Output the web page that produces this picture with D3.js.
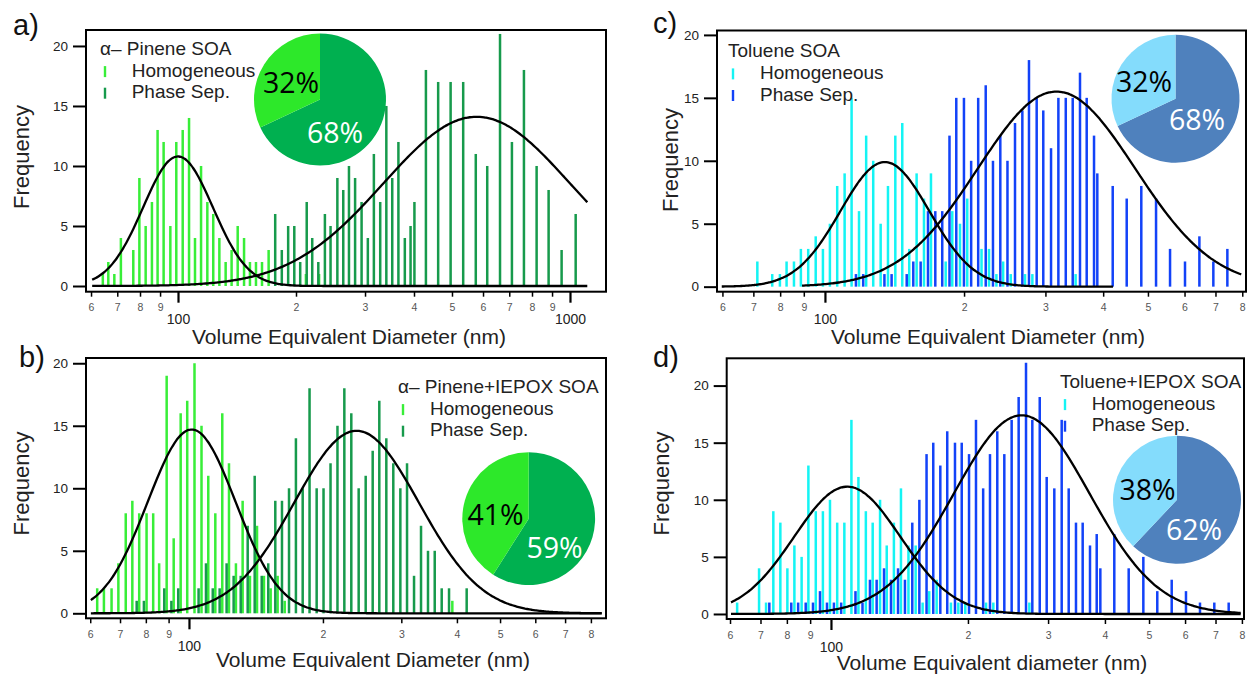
<!DOCTYPE html>
<html>
<head>
<meta charset="utf-8">
<script src="https://cdn.jsdelivr.net/npm/d3@7"></script>
<style>
  body { margin: 0; background: #fff; }
  text { font-family: "Liberation Sans", Arial, sans-serif; }
</style>
</head>
<body>
<script>
// ---------------- data (diameter in nm, counts) ----------------
// a) alpha-pinene SOA
var aHomD = [64.3, 66.4, 68.8, 71.5, 76.9, 79.7, 82.7, 85.8, 88.7, 91.9, 95.6, 99.0, 102.8, 106.7, 110.5, 114.5, 118.8, 123.0, 127.5, 132.3, 137.0, 142.0, 147.4, 152.6, 158.1, 163.8, 170.3, 212, 229];
var aHomN = [1, 2, 1, 4, 3, 9, 5, 7, 13, 12, 5, 12, 13, 14, 4, 10, 7, 6, 4, 2, 3, 5, 4, 2, 2, 2, 3, 1, 1];
var aPhsD = [177, 184, 191, 198, 205, 213, 220, 228, 237, 245, 255, 264, 273, 283, 294, 305, 316, 328, 340, 352, 365, 379, 392, 401, 429, 461, 496, 534, 575, 615, 663, 711, 763, 822, 882, 952, 1034];
var aPhsN = [6, 3, 5, 5, 2, 7, 4, 2, 6, 5, 9, 8, 10, 9, 7, 4, 11, 7, 15, 9, 12, 4, 5, 7, 18, 17, 17, 17, 11, 10, 21, 12, 18, 10, 8, 3, 6];
// fit: [centre nm, sigma (log10), amplitude, from nm, to nm]
var aFitHom = [100, 0.089, 10.8, 60.4, 1107];
var aFitPhs = [578, 0.238, 14.1, 60.4, 1107];
var aPie = [68, 32]; // phase sep., homogeneous

// b) alpha-pinene + IEPOX SOA
var bHomD = [62.2, 64.4, 67.0, 69.4, 72.1, 74.6, 77.3, 80.3, 83.1, 85.7, 89.1, 92.4, 95.8, 99.1, 102.9, 106.7, 110.5, 114.6, 118.8, 123.0, 127.5, 132.0, 137.1, 142.2, 147.4, 152.6, 158.2, 164.1, 390.6];
var bHomN = [2, 2, 2, 4, 8, 9, 8, 8, 8, 4, 19, 6, 16, 17, 20, 15, 11, 8, 16, 12, 4, 9, 3, 7, 3, 2, 3, 1, 1];
var bPhsD = [76.3, 79.2, 88.0, 91.3, 94.6, 105.1, 109.2, 113.1, 117.2, 121.5, 126.0, 130.7, 135.5, 140.5, 145.7, 150.7, 156.3, 161.8, 167.8, 173.9, 180.1, 186.6, 193.6, 200.6, 208.0, 215.6, 223.4, 231.6, 240.6, 249.5, 258.7, 267.7, 277.6, 287.8, 298.5, 309.0, 320.4, 332.2, 344.4, 356.6, 369.7, 384.0, 420.7];
var bPhsN = [1, 1, 2, 1, 2, 2, 4, 2, 2, 4, 3, 3, 7, 11, 3, 4, 9, 9, 10, 14, 10, 18, 10, 10, 12, 15, 18, 16, 10, 11, 13, 17, 14, 12, 10, 12, 3, 7, 5, 5, 2, 2, 2];
var bFitHom = [101.4, 0.0987, 14.7, 60.2, 846];
var bFitPhs = [238, 0.14, 14.6, 60.2, 846];
var bPie = [59, 41];

// c) toluene SOA
var cHomD = [71.4, 76.9, 79.9, 82.6, 85.7, 88.7, 92.0, 95.5, 99.0, 102.5, 106.3, 110.3, 114.2, 118.5, 122.8, 127.2, 132.0, 136.9, 142.0, 147.0, 152.2, 157.9, 163.8, 169.6, 182.5, 188.6, 196.0, 203.2, 218.2, 226.5, 235.0, 243.0, 252.4, 271.0, 281.1, 348.7];
var cHomN = [2, 1, 1, 2, 2, 3, 3, 4, 3, 5, 8, 9, 15, 6, 12, 10, 5, 8, 12, 13, 3, 9, 7, 9, 2, 6, 5, 7, 3, 3, 1, 2, 1, 1, 1, 1];
var cPhsD = [116.7, 121.0, 134.5, 139.4, 150.3, 155.3, 161.1, 167.1, 173.3, 179.4, 186.0, 192.4, 199.9, 207.2, 214.6, 222.8, 231.0, 239.6, 248.3, 257.8, 267.4, 276.4, 287.2, 296.8, 308.5, 320.0, 332.0, 343.7, 356.4, 368.5, 382.2, 388.5, 419.5, 449.8, 483.7, 520.6, 558.2, 601.4, 646.1, 692.6, 742.7];
var cPhsN = [1, 1, 1, 1, 1, 2, 2, 6, 6, 6, 12, 15, 15, 10, 15, 16, 10, 12, 10, 13, 14, 18, 15, 14, 11, 15, 15, 15, 17, 15, 12, 9, 8, 7, 8, 7, 3, 2, 4, 2, 3];
var cFitHom = [134.8, 0.0962, 9.9, 59.8, 420];
var cFitPhs = [317, 0.17, 15.5, 89.2, 796];
var cPie = [68, 32];

// d) toluene + IEPOX SOA
var dHomD = [62.2, 69.5, 72.0, 74.7, 77.4, 80.2, 83.1, 86.2, 89.2, 92.6, 96.0, 99.5, 103.2, 107.0, 110.9, 114.9, 119.3, 123.5, 128.2, 132.6, 137.5, 142.5, 148.0, 153.5, 159.0, 164.4, 170.7, 183.5, 190.5, 197.3, 219.2, 227.4, 272.9];
var dHomN = [1, 4, 1, 9, 8, 4, 6, 5, 13, 9, 9, 10, 8, 8, 17, 12, 9, 8, 10, 6, 8, 11, 6, 6, 1, 2, 3, 1, 1, 1, 1, 1, 1];
var dPhsD = [73.2, 81.8, 84.7, 88.0, 91.3, 94.6, 98.0, 101.5, 105.3, 113.2, 117.3, 121.8, 126.0, 130.8, 135.5, 140.4, 145.4, 150.9, 156.4, 162.2, 167.8, 173.9, 180.1, 187.3, 193.8, 201.1, 208.3, 216.0, 223.6, 232.0, 240.4, 249.5, 258.5, 268.3, 277.0, 287.6, 297.9, 309.6, 321.4, 333.0, 345.5, 357.4, 370.9, 383.7, 390.8, 419.4, 451.1, 485.8, 521.3, 560.8, 602.8, 647.1, 695.7, 748.2];
var dPhsN = [1, 1, 1, 1, 1, 2, 1, 1, 1, 2, 1, 3, 3, 4, 3, 4, 3, 8, 10, 14, 15, 13, 16, 15, 15, 14, 17, 11, 14, 16, 14, 17, 19, 22, 17, 19, 12, 11, 17, 11, 8, 8, 6, 7, 4, 7, 4, 5, 2, 3, 2, 1, 1, 1];
var dFitHom = [108.6, 0.1167, 11.15, 60.3, 795];
var dFitPhs = [262.5, 0.149, 17.4, 60.3, 795];
var dPie = [62, 38];

var yTickVals = [0, 5, 10, 15, 20];
var xTickVals = [60, 70, 80, 90, 100, 200, 300, 400, 500, 600, 700, 800, 900, 1000];
var legendRows = ['Homogeneous', 'Phase Sep.'];

// ---------------- colours ----------------
var lightGreen = '#38ee38', darkGreen = '#179a4c';
var cyanBar = '#14f4f4', blueBar = '#1242f8';
var pieGreens = ['#00b050', '#2de82a'];
var pieBlues = ['#4f81bd', '#84dcfc'];

var panels = [
  { tag: 'a)', tagPos: [13, 35], frame: [86, 30, 606, 291.7], xDom: [58.25, 1235.6], yDom: [-0.475, 21.33],
    series: [[aHomD, aHomN, lightGreen], [aPhsD, aPhsN, darkGreen]], fits: [aFitHom, aFitPhs],
    pie: aPie, pieC: [320, 99.5], pieR: 66, pieCol: pieGreens, pieLab: [[15, 43.5], [-29, -6.5]],
    legTitle: 'α– Pinene SOA', leg: [100, 55, 105, 131.7],
    freq: [29, 157], xTitle: [349, 344, 'Volume Equivalent Diameter (nm)'] },
  { tag: 'b)', tagPos: [19, 367], frame: [86, 358, 606, 618.3], xDom: [58.7, 865], yDom: [-0.4, 20.42],
    series: [[bHomD, bHomN, lightGreen], [bPhsD, bPhsN, darkGreen]], fits: [bFitHom, bFitPhs],
    pie: bPie, pieC: [528.7, 518.7], pieR: 66.4, pieCol: pieGreens, pieLab: [[25.8, 39.3], [-33.2, 6.3]],
    legTitle: 'α– Pinene+IEPOX SOA', leg: [398, 393, 403, 430],
    freq: [29, 483.5], xTitle: [373, 667, 'Volume Equivalent Diameter (nm)'] },
  { tag: 'c)', tagPos: [653, 33], frame: [717, 30.5, 1246, 291.7], xDom: [58.4, 815], yDom: [-0.4, 20.35],
    series: [[cHomD, cHomN, cyanBar], [cPhsD, cPhsN, blueBar]], fits: [cFitHom, cFitPhs],
    pie: cPie, pieC: [1175.5, 98.8], pieR: 64, pieCol: pieBlues, pieLab: [[21.5, 31.2], [-31.5, -7]],
    legTitle: 'Toluene SOA', leg: [728, 57.3, 733, 760],
    freq: [678, 160], xTitle: [988, 344, 'Volume Equivalent Diameter (nm)'] },
  { tag: 'd)', tagPos: [653, 367], frame: [726.7, 358.3, 1244, 619], xDom: [59.0, 808.5], yDom: [-0.44, 22.39],
    series: [[dHomD, dHomN, cyanBar], [dPhsD, dPhsN, blueBar]], fits: [dFitHom, dFitPhs],
    pie: dPie, pieC: [1177, 499.7], pieR: 64, pieCol: pieBlues, pieLab: [[17, 40.3], [-29.5, 0.3]],
    legTitle: 'Toluene+IEPOX SOA', leg: [1060, 388, 1065, 1091.7],
    freq: [669, 483.5], xTitle: [992, 670, 'Volume Equivalent diameter (nm)'] }
];

var svg = d3.select('body').append('svg')
  .attr('width', 1248)
  .attr('height', 677);

// fitted log-normal curve sampled between its start and end diameter
function fitLine(f) {
  var l0 = Math.log10(f[3]), l1 = Math.log10(f[4]), lm = Math.log10(f[0]);
  return d3.range(0, 241).map(function(i) {
    var lx = l0 + (l1 - l0) * i / 240;
    return [Math.pow(10, lx), f[2] * Math.exp(-Math.pow(lx - lm, 2) / (2 * f[1] * f[1]))];
  });
}

function isMajor(v) { return v == 100 || v == 1000; }

panels.forEach(function(p) {
  var x0 = p.frame[0], y0 = p.frame[1], x1 = p.frame[2], y1 = p.frame[3];
  var x = d3.scaleLog().domain(p.xDom).range([x0, x1]);
  var y = d3.scaleLinear().domain(p.yDom).range([y1, y0]);
  var g = svg.append('g');

  // bars
  p.series.forEach(function(s) {
    g.append('g').selectAll('rect')
      .data(d3.zip(s[0], s[1]))
      .enter().append('rect')
      .attr('x', function(d) { return x(d[0]) - 1.25; })
      .attr('y', function(d) { return y(d[1]); })
      .attr('width', 2.5)
      .attr('height', function(d) { return y(0) - y(d[1]); })
      .attr('fill', s[2]);
  });

  // fit curves
  var line = d3.line()
    .x(function(d) { return x(d[0]); })
    .y(function(d) { return y(d[1]); })
    .curve(d3.curveBasis);
  p.fits.forEach(function(f) {
    g.append('path')
      .attr('d', line(fitLine(f)))
      .attr('fill', 'none')
      .attr('stroke', '#000')
      .attr('stroke-width', 2.3);
  });

  // y axis
  var ya = g.append('g')
    .attr('transform', 'translate(' + x0 + ',0)')
    .call(d3.axisLeft(y).tickValues(yTickVals).tickSize(13).tickPadding(5));
  ya.select('.domain').remove();
  ya.attr('font-family', null).attr('font-size', 13.5);
  ya.selectAll('line').attr('stroke-width', 2);
  ya.selectAll('text').attr('fill', '#222');

  // x axis, minor and major ticks
  var inDom = xTickVals.filter(function(v) { return v >= p.xDom[0] && v <= p.xDom[1]; });
  var xmin = g.append('g')
    .attr('transform', 'translate(0,' + y1 + ')')
    .call(d3.axisBottom(x).tickValues(inDom.filter(function(v) { return !isMajor(v); }))
      .tickSize(5).tickFormat(function(v) { return String(v).charAt(0); }));
  xmin.select('.domain').remove();
  xmin.attr('font-family', null).attr('font-size', 10.5);
  xmin.selectAll('line').attr('stroke-width', 1.5);
  xmin.selectAll('text').attr('y', 19.5).attr('dy', null).attr('fill', '#555');

  var xmaj = g.append('g')
    .attr('transform', 'translate(0,' + y1 + ')')
    .call(d3.axisBottom(x).tickValues(inDom.filter(isMajor)).tickSize(11)
      .tickFormat(function(v) { return String(v); }));
  xmaj.select('.domain').remove();
  xmaj.attr('font-family', null).attr('font-size', 14);
  xmaj.selectAll('line').attr('stroke-width', 2.2);
  xmaj.selectAll('text').attr('y', 32.5).attr('dy', null).attr('fill', '#222');

  // frame
  g.append('rect')
    .attr('x', x0).attr('y', y0)
    .attr('width', x1 - x0).attr('height', y1 - y0)
    .attr('fill', 'none').attr('stroke', '#000').attr('stroke-width', 2);

  // titles
  g.append('text')
    .attr('transform', 'translate(' + p.freq[0] + ',' + p.freq[1] + ') rotate(-90)')
    .attr('text-anchor', 'middle')
    .attr('font-size', 22)
    .attr('fill', '#222')
    .text('Frequency');
  g.append('text')
    .attr('x', p.xTitle[0]).attr('y', p.xTitle[1])
    .attr('text-anchor', 'middle')
    .attr('font-size', 21)
    .attr('fill', '#222')
    .text(p.xTitle[2]);
  g.append('text')
    .attr('x', p.tagPos[0]).attr('y', p.tagPos[1])
    .attr('font-size', 29)
    .attr('fill', '#111')
    .text(p.tag);

  // legend
  g.append('text')
    .attr('x', p.leg[0]).attr('y', p.leg[1])
    .attr('font-size', 19)
    .attr('fill', '#222')
    .text(p.legTitle);
  legendRows.forEach(function(r, i) {
    var by = p.leg[1] + 21.6 * (i + 1);
    g.append('rect')
      .attr('x', p.leg[2] - 1.2).attr('y', by - 10.5)
      .attr('width', 2.4).attr('height', 11)
      .attr('fill', p.series[i][2]);
    g.append('text')
      .attr('x', p.leg[3]).attr('y', by)
      .attr('font-size', 19)
      .attr('fill', '#222')
      .text(r);
  });

  // pie
  var arcs = d3.pie().sort(null)(p.pie);
  var arc = d3.arc().innerRadius(0).outerRadius(p.pieR);
  var pg = g.append('g').attr('transform', 'translate(' + p.pieC[0] + ',' + p.pieC[1] + ')');
  pg.selectAll('path')
    .data(arcs)
    .enter().append('path')
    .attr('d', arc)
    .attr('fill', function(d, i) { return p.pieCol[i]; });
  pg.selectAll('text')
    .data(arcs)
    .enter().append('text')
    .attr('x', function(d, i) { return p.pieLab[i][0]; })
    .attr('y', function(d, i) { return p.pieLab[i][1]; })
    .attr('text-anchor', 'middle')
    .style('font-family', '"Open Sans", sans-serif')
    .attr('font-size', 28.5)
    .attr('fill', function(d, i) { return i == 0 ? '#fff' : '#000'; })
    .text(function(d) { return d.data + '%'; });
});
</script>
</body>
</html>
